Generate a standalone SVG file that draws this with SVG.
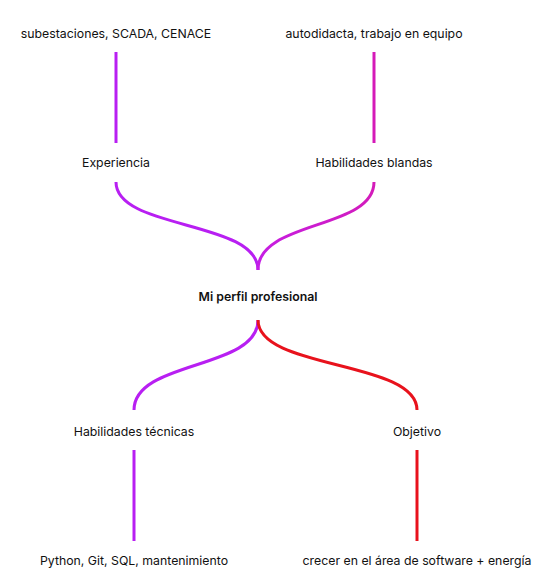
<svg xmlns="http://www.w3.org/2000/svg" width="547" height="583" viewBox="0 0 547 583">
<defs>
<linearGradient id="gr" gradientUnits="userSpaceOnUse" x1="258" y1="270" x2="374" y2="182">
<stop offset="0" stop-color="#c41ee6"/>
<stop offset="1" stop-color="#d41bb8"/>
</linearGradient>
<style>
text{font-family:Inter,"Noto Sans","Liberation Sans",sans-serif;font-size:12.3px;fill:#111;text-anchor:middle}
.b{font-weight:600}
.c{fill:none;stroke-width:3;stroke-linecap:butt}
.p{stroke:#b81ff2}
.m{stroke:#d51ab8}
.r{stroke:#e8121c}
</style>
</defs>
<rect width="547" height="583" fill="#fff"/>
<g id="connectors">
<path class="c p" d="M116 52 V143"/>
<path class="c m" d="M374 52 V143"/>
<path class="c p" d="M116 182 C116 230 258 220 258 270"/>
<path class="c" stroke="url(#gr)" d="M374 182 C374 230 258 220 258 270"/>
<path class="c p" d="M258 320 C258 370 134 360 134 410"/>
<path class="c r" d="M258 320 C258 370 417 360 417 410"/>
<path class="c p" d="M134 450 V541"/>
<path class="c r" d="M417 450 V541"/>
</g>
<g id="n-subestaciones"><text x="116" y="38">subestaciones, SCADA, CENACE</text></g>
<g id="n-autodidacta"><text x="374" y="38">autodidacta, trabajo en equipo</text></g>
<g id="n-experiencia"><text x="116" y="167">Experiencia</text></g>
<g id="n-blandas"><text x="374" y="167">Habilidades blandas</text></g>
<g id="n-perfil"><text class="b" x="258" y="301">Mi perfil profesional</text></g>
<g id="n-tecnicas"><text x="134" y="436">Habilidades técnicas</text></g>
<g id="n-objetivo"><text x="417" y="436">Objetivo</text></g>
<g id="n-python"><text x="134" y="565">Python, Git, SQL, mantenimiento</text></g>
<g id="n-crecer"><text x="417" y="565">crecer en el área de software + energía</text></g>
</svg>
